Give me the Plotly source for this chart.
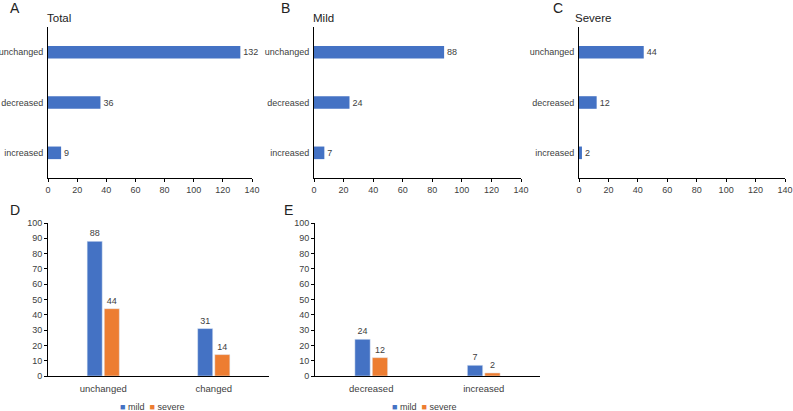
import plotly.graph_objects as go

W, H = 793, 411

# ---- data ----
categories_h = ["unchanged", "decreased", "increased"]
total_vals = [132, 36, 9]
mild_vals = [88, 24, 7]
severe_vals = [44, 12, 2]

cats_d = ["unchanged", "changed"]
mild_d = [88, 31]
severe_d = [44, 14]

cats_e = ["decreased", "increased"]
mild_e = [24, 7]
severe_e = [12, 2]

x_ticks_h = [0, 20, 40, 60, 80, 100, 120, 140]
y_ticks_v = [0, 10, 20, 30, 40, 50, 60, 70, 80, 90, 100]

BLUE = "#4472C4"
ORANGE = "#ED7D31"
TXT = "#404040"
FONT = "Liberation Sans"


def px_x(a, b):
    return [a / W, b / W]


def px_y(top, bottom):
    return [1 - bottom / H, 1 - top / H]


fig = go.Figure()

# ---- horizontal panels A, B, C ----
panels = [
    (total_vals, "x", "y", px_x(48, 252)),
    (mild_vals, "x2", "y2", px_x(314, 521)),
    (severe_vals, "x3", "y3", px_x(579, 785)),
]
for i, (vals, xa, ya, dom) in enumerate(panels):
    fig.add_trace(go.Bar(
        y=categories_h, x=vals, orientation="h", xaxis=xa, yaxis=ya,
        marker=dict(color=BLUE, line=dict(width=0)), width=0.25,
        text=vals, textposition="outside", cliponaxis=False,
        textfont=dict(size=9, color=TXT, family=FONT), showlegend=False,
    ))
    sfx = "" if i == 0 else str(i + 1)
    fig.layout["xaxis" + sfx] = dict(
        domain=dom, range=[0, 140], tickvals=x_ticks_h, anchor="y" + sfx,
        showgrid=False, zeroline=False, showline=True, linecolor="#000", linewidth=1,
        ticks="outside", ticklen=3, tickcolor="#000", automargin=False,
        tickfont=dict(size=9, color=TXT, family=FONT), fixedrange=True,
    )
    fig.layout["yaxis" + sfx] = dict(
        domain=px_y(27, 178), anchor="x" + sfx, autorange="reversed",
        showgrid=False, zeroline=False, showline=True, linecolor="#000", linewidth=1,
        ticks="", tickfont=dict(size=9, color=TXT, family=FONT), ticklabelstandoff=2,
        automargin=False,
    )

# ---- vertical panels D, E ----
vpanels = [
    (cats_d, mild_d, severe_d, "x4", "y4", px_x(48, 269)),
    (cats_e, mild_e, severe_e, "x5", "y5", px_x(315, 540)),
]
for j, (cats, m, s, xa, ya, dom) in enumerate(vpanels):
    fig.add_trace(go.Bar(
        x=cats, y=m, name="mild", xaxis=xa, yaxis=ya, marker=dict(color=BLUE),
        text=m, textposition="outside", cliponaxis=False, showlegend=False,
        textfont=dict(size=9, color=TXT, family=FONT),
    ))
    fig.add_trace(go.Bar(
        x=cats, y=s, name="severe", xaxis=xa, yaxis=ya, marker=dict(color=ORANGE),
        text=s, textposition="outside", cliponaxis=False, showlegend=False,
        textfont=dict(size=9, color=TXT, family=FONT),
    ))
    n = 4 + j
    fig.layout["xaxis%d" % n] = dict(
        domain=dom, anchor="y%d" % n, showgrid=False, zeroline=False,
        showline=True, linecolor="#000", linewidth=1, ticks="", automargin=False,
        tickfont=dict(size=9.5, color=TXT, family=FONT), fixedrange=True,
        ticklabelstandoff=4,
    )
    fig.layout["yaxis%d" % n] = dict(
        domain=px_y(223, 376), anchor="x%d" % n, range=[0, 100], tickvals=y_ticks_v,
        showgrid=False, zeroline=False, showline=True, linecolor="#000", linewidth=1,
        ticks="outside", ticklen=3, tickcolor="#000", automargin=False,
        tickfont=dict(size=9, color=TXT, family=FONT),
    )

# ---- legends (Excel-style, compact) ----
legend_text = ("<span style='color:%s'>■</span> mild  "
               "<span style='color:%s'>■</span> severe") % (BLUE, ORANGE)
for cx in (152, 424):
    fig.add_annotation(
        text=legend_text, x=cx / W, y=1 - 407 / H, xref="paper", yref="paper",
        xanchor="center", yanchor="middle", showarrow=False,
        font=dict(size=9, color=TXT, family=FONT),
    )

# ---- panel letters and titles ----
labels = [
    ("A", 8, 8, 14), ("Total", 45, 18, 11.5),
    ("B", 279, 8, 14), ("Mild", 311, 18, 11.5),
    ("C", 551, 8, 14), ("Severe", 573, 18, 11.5),
    ("D", 8, 210, 14), ("E", 282, 210, 14),
]
for txt, x, y, sz in labels:
    fig.add_annotation(
        text=txt, x=x / W, y=1 - y / H, xref="paper", yref="paper",
        xanchor="left", yanchor="middle", showarrow=False,
        font=dict(size=sz, color="#222", family=FONT),
    )

fig.update_layout(
    width=W, height=H, margin=dict(l=0, r=0, t=0, b=0),
    paper_bgcolor="white", plot_bgcolor="white",
    barmode="group", bargap=0.69, bargroupgap=0.12,
    font=dict(family=FONT, color=TXT), showlegend=False,
)

fig.write_html(
    "out.html",
    config={"displayModeBar": False},
    post_script="document.body.style.margin='0px';document.body.style.overflow='hidden';",
)
